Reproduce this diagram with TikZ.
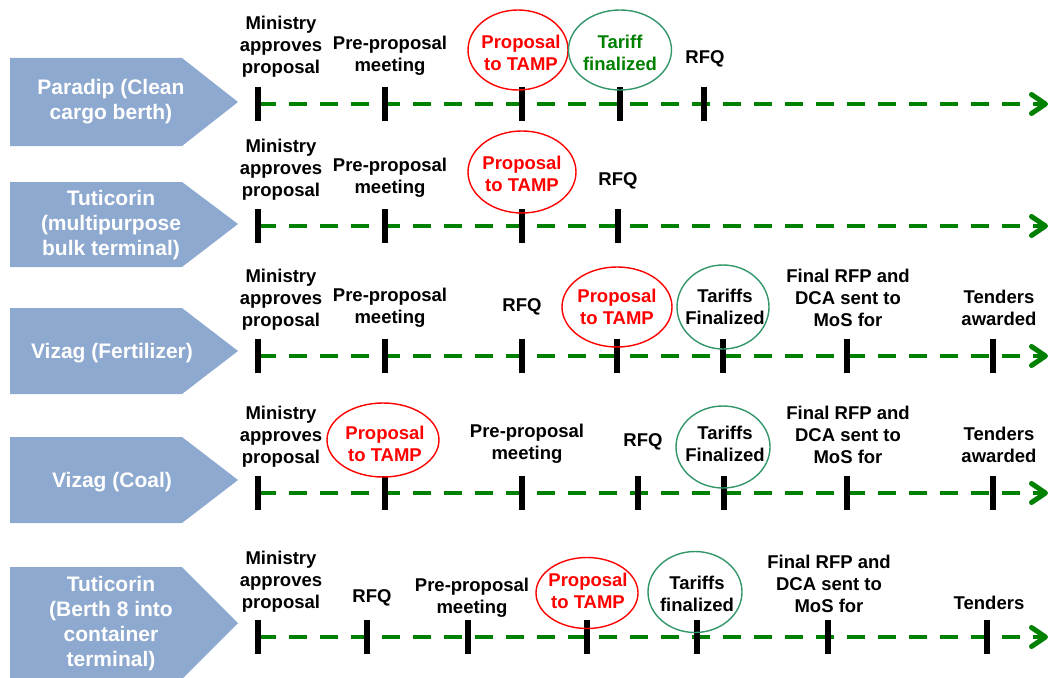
\documentclass[tikz,border=0pt]{standalone}
\usepackage{fontspec}
\setmainfont{Liberation Sans}
\usetikzlibrary{arrows.meta,shapes.geometric}
\definecolor{pent}{RGB}{142,169,207}
\definecolor{tgreen}{RGB}{0,128,0}
\definecolor{egreen}{RGB}{50,150,105}
\definecolor{tred}{RGB}{255,0,0}
\begin{document}
\begin{tikzpicture}[x=1pt,y=-1pt,
  lbl/.style={font=\bfseries\fontsize{18.5}{22}\selectfont,align=center,inner sep=0pt,text=black},
  ptxt/.style={font=\bfseries\fontsize{21}{25}\selectfont,align=center,inner sep=0pt,text=white},
  tickmark/.style={fill=black,draw=none,minimum width=6pt,minimum height=34pt,inner sep=0pt,rectangle},
  timeline/.style={draw=tgreen,line width=4.5pt,dash pattern=on 18pt off 13pt,-{Straight Barb[length=14pt,width=19pt,line width=5pt,line cap=round,line join=round]}},
  redell/.style={ellipse,draw=tred,line width=1.4pt,inner sep=0pt},
  greenell/.style={ellipse,draw=egreen,line width=1.4pt,inner sep=0pt}]
\useasboundingbox (0,0) rectangle (1051,677);
% ---------- pentagons ----------
\fill[pent] (10,58) -- (182,58) -- (238,102) -- (182,146) -- (10,146) -- cycle;
\node[ptxt] (p1) at (111,102) {Paradip (Clean\\cargo berth)};
\fill[pent] (10,182) -- (182,182) -- (238,224) -- (182,267) -- (10,267) -- cycle;
\node[ptxt] (p2) at (111,225) {Tuticorin\\(multipurpose\\bulk terminal)};
\fill[pent] (10,308) -- (182,308) -- (238,351) -- (182,394) -- (10,394) -- cycle;
\node[ptxt] (p3) at (112,353) {Vizag (Fertilizer)};
\fill[pent] (10,437) -- (182,437) -- (238,480) -- (182,523) -- (10,523) -- cycle;
\node[ptxt] (p4) at (112,482) {Vizag (Coal)};
\fill[pent] (10,567) -- (182,567) -- (238,623) -- (182,679) -- (10,679) -- cycle;
\node[ptxt] (p5) at (111,624) {Tuticorin\\(Berth 8 into\\container\\terminal)};
% ---------- row 1 ----------
\coordinate (s1) at (258,104); \coordinate (e1) at (1048,104);
\draw[timeline] (s1) -- (e1);
\foreach \x/\n in {258/a,385/b,522/c,620/d,704/e} \node[tickmark] (t1\n) at (\x,104) {};
\node[lbl] (l1a) at (281,47) {Ministry\\approves\\proposal};
\node[lbl] (l1b) at (390,56) {Pre-proposal\\meeting};
\node[redell,minimum width=100pt,minimum height=80pt] (c1a) at (518,50) {};
\node[lbl,text=tred] (l1c) at (521,53) {Proposal\\to TAMP};
\node[greenell,minimum width=103pt,minimum height=80pt] (c1b) at (620,50) {};
\node[lbl,text=tgreen] (l1d) at (620,53) {Tariff\\finalized};
\node[lbl] (l1e) at (705,59) {RFQ};
% ---------- row 2 ----------
\coordinate (s2) at (258,226); \coordinate (e2) at (1048,226);
\draw[timeline] (s2) -- (e2);
\foreach \x/\n in {258/a,385/b,522/c,618/d} \node[tickmark] (t2\n) at (\x,226) {};
\node[lbl] (l2a) at (281,170) {Ministry\\approves\\proposal};
\node[lbl] (l2b) at (390,178) {Pre-proposal\\meeting};
\node[redell,minimum width=108pt,minimum height=82pt] (c2a) at (522,172) {};
\node[lbl,text=tred] (l2c) at (522,174) {Proposal\\to TAMP};
\node[lbl] (l2d) at (618,181) {RFQ};
% ---------- row 3 ----------
\coordinate (s3) at (258,356); \coordinate (e3) at (1048,356);
\draw[timeline] (s3) -- (e3);
\foreach \x/\n in {258/a,385/b,522/c,617/d,723/e,847/f,993/g} \node[tickmark] (t3\n) at (\x,356) {};
\node[lbl] (l3a) at (281,300) {Ministry\\approves\\proposal};
\node[lbl] (l3b) at (390,308) {Pre-proposal\\meeting};
\node[lbl] (l3c) at (522,307) {RFQ};
\node[redell,minimum width=110pt,minimum height=80pt] (c3a) at (617,307) {};
\node[lbl,text=tred] (l3d) at (617,307) {Proposal\\to TAMP};
\node[greenell,minimum width=92pt,minimum height=84pt] (c3b) at (723,307) {};
\node[lbl] (l3e) at (725,307) {Tariffs\\Finalized};
\node[lbl] (l3f) at (848,298) {Final RFP and\\DCA sent to\\MoS for};
\node[lbl] (l3g) at (999,308) {Tenders\\awarded};
% ---------- row 4 ----------
\coordinate (s4) at (258,493); \coordinate (e4) at (1048,493);
\draw[timeline] (s4) -- (e4);
\foreach \x/\n in {258/a,385/b,522/c,638/d,724/e,847/f,993/g} \node[tickmark] (t4\n) at (\x,493) {};
\node[lbl] (l4a) at (281,437) {Ministry\\approves\\proposal};
\node[redell,minimum width=112pt,minimum height=74pt] (c4a) at (383,440) {};
\node[lbl,text=tred] (l4b) at (385,444) {Proposal\\to TAMP};
\node[lbl] (l4c) at (527,444) {Pre-proposal\\meeting};
\node[lbl] (l4d) at (643,442) {RFQ};
\node[greenell,minimum width=94pt,minimum height=82pt] (c4b) at (723,447) {};
\node[lbl] (l4e) at (725,444) {Tariffs\\Finalized};
\node[lbl] (l4f) at (848,435) {Final RFP and\\DCA sent to\\MoS for};
\node[lbl] (l4g) at (999,445) {Tenders\\awarded};
% ---------- row 5 ----------
\coordinate (s5) at (258,637); \coordinate (e5) at (1048,637);
\draw[timeline] (s5) -- (e5);
\foreach \x/\n in {258/a,367/b,468/c,587/d,697/e,828/f,987/g} \node[tickmark] (t5\n) at (\x,637) {};
\node[lbl] (l5a) at (281,582) {Ministry\\approves\\proposal};
\node[lbl] (l5b) at (372,598) {RFQ};
\node[lbl] (l5c) at (472,598) {Pre-proposal\\meeting};
\node[redell,minimum width=102pt,minimum height=71pt] (c5a) at (587,593) {};
\node[lbl,text=tred] (l5d) at (588,591) {Proposal\\to TAMP};
\node[greenell,minimum width=94pt,minimum height=81pt] (c5b) at (695,592) {};
\node[lbl] (l5e) at (697,594) {Tariffs\\finalized};
\node[lbl] (l5f) at (829,584) {Final RFP and\\DCA sent to\\MoS for};
\node[lbl] (l5g) at (989,603) {Tenders};
\end{tikzpicture}
\end{document}
